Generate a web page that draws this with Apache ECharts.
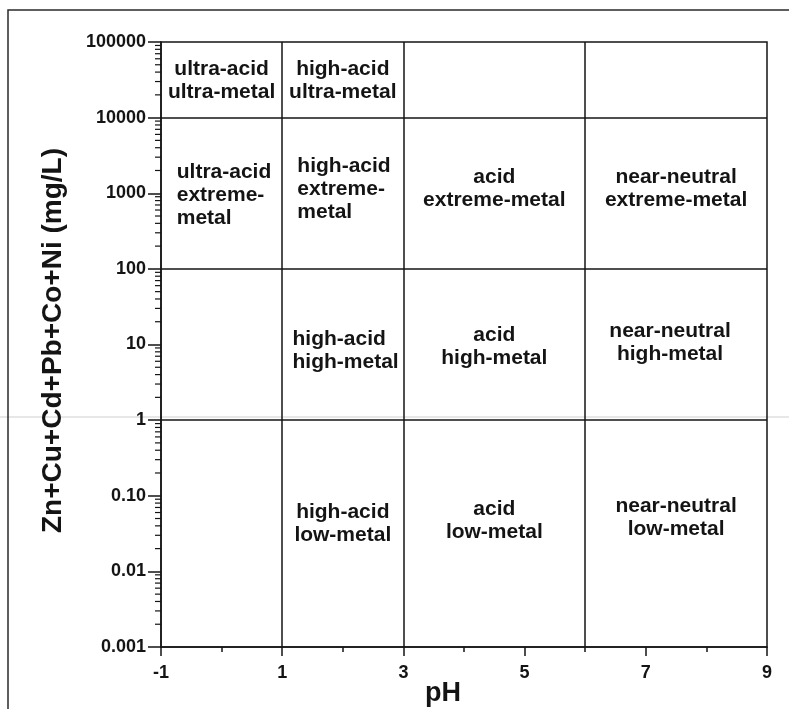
<!DOCTYPE html>
<html><head><meta charset="utf-8">
<script src="https://cdn.jsdelivr.net/npm/echarts@6/dist/echarts.min.js"></script>
<style>html,body{margin:0;padding:0;background:#fff}#c{width:789px;height:709px}</style>
</head><body><div id="c"></div>
<script>
// ---- data ----
const xTickValues = [-1, 1, 3, 5, 7, 9];
const yTickLabels = ['0.001', '0.01', '0.10', '1', '10', '100', '1000', '10000', '100000'];
const phBoundaries = [1, 3, 6];
const concBoundaries = [1, 100, 10000];
const regionNames = [
  'ultra-acid\nultra-metal', 'high-acid\nultra-metal',
  'ultra-acid\nextreme-\nmetal', 'high-acid\nextreme-\nmetal', 'acid\nextreme-metal', 'near-neutral\nextreme-metal',
  'high-acid\nhigh-metal', 'acid\nhigh-metal', 'near-neutral\nhigh-metal',
  'high-acid\nlow-metal', 'acid\nlow-metal', 'near-neutral\nlow-metal'
];
const regionPH = [0, 2, -0.74, 1.25, 4.5, 7.5, 1.17, 4.5, 7.4, 2, 4.5, 7.5];
const regionConc = [31000, 31000, 950, 1120, 1150, 1150, 8.4, 9.4, 10.6, 0.043, 0.047, 0.051];
const regionLeftAligned = [false, false, true, true, false, false, true, false, false, false, false, false];
const minorMultipliers = [2, 3, 4, 5, 6, 7, 8, 9];
const decadeStarts = [0.001, 0.01, 0.1, 1, 10, 100, 1000, 10000];

// ---- build ----
const minorConc = [];
decadeStarts.forEach(d => minorMultipliers.forEach(m => minorConc.push(m * d)));

const INK = '#141414';
const FONT = '"Liberation Sans", Arial, sans-serif';

const chart = echarts.init(document.getElementById('c'), null, {renderer: 'canvas'});
chart.setOption({
  animation: false,
  backgroundColor: '#fff',
  grid: {left: 161, right: 22, top: 42, bottom: 62, show: true, borderColor: INK, borderWidth: 1.5,
    backgroundColor: 'transparent', containLabel: false, outerBoundsMode: 'none'},
  graphic: [
    {type: 'line', z: -10, shape: {x1: 0, y1: 417, x2: 789, y2: 417}, style: {stroke: '#cfcfcf', lineWidth: 1}},
    {type: 'rect', shape: {x: 8, y: 10, width: 840, height: 760}, style: {fill: 'none', stroke: '#2a2a2a', lineWidth: 1.5}}
  ],
  xAxis: {
    type: 'value', min: -1, max: 9, interval: 2,
    axisLine: {show: true, onZero: false, lineStyle: {color: INK, width: 1.5}},
    axisTick: {show: true, inside: false, length: 9, lineStyle: {color: INK, width: 1.5}},
    minorTick: {show: true, splitNumber: 2, length: 5, lineStyle: {color: INK, width: 1.5}},
    splitLine: {show: false},
    axisLabel: {fontFamily: FONT, fontWeight: 'bold', fontSize: 18, color: INK, margin: 17,
      formatter: v => (xTickValues.indexOf(Math.round(v)) >= 0 ? String(Math.round(v)) : '')},
    name: 'pH', nameLocation: 'middle', nameGap: 33, nameMoveOverlap: false,
    nameTextStyle: {fontFamily: FONT, fontWeight: 'bold', fontSize: 27, color: INK, padding: [0, 42, 0, 0]}
  },
  yAxis: {
    type: 'log', logBase: 10, min: 0.001, max: 100000, splitNumber: 8,
    axisLine: {show: true, onZero: false, lineStyle: {color: INK, width: 1.5}},
    axisTick: {show: true, inside: false, length: 13, lineStyle: {color: INK, width: 1.5}},
    splitLine: {show: false},
    axisLabel: {fontFamily: FONT, fontWeight: 'bold', fontSize: 18, color: INK, margin: 15,
      formatter: v => {
        const i = Math.round(Math.log10(v)) + 3;
        return yTickLabels[i] !== undefined ? yTickLabels[i] : '';
      }},
    name: 'Zn+Cu+Cd+Pb+Co+Ni (mg/L)', nameLocation: 'middle', nameGap: 94, nameMoveOverlap: false,
    nameTextStyle: {fontFamily: FONT, fontWeight: 'bold', fontSize: 28, color: INK, padding: [0, 0, 0, 8]}
  },
  series: [
    {
      type: 'line', data: [], silent: true,
      markLine: {
        silent: true, symbol: 'none', animation: false,
        label: {show: false},
        lineStyle: {color: INK, width: 1.5, type: 'solid'},
        data: phBoundaries.map(p => ({xAxis: p})).concat(concBoundaries.map(c => ({yAxis: c})))
      }
    },
    {
      type: 'custom', silent: true, clip: false,
      data: minorConc.map(v => [-1, v]),
      encode: {x: 0, y: 1},
      renderItem: (params, api) => {
        const p = api.coord([api.value(0), api.value(1)]);
        return {type: 'line', shape: {x1: p[0] - 6, y1: p[1], x2: p[0], y2: p[1]},
          style: {stroke: INK, lineWidth: 1.2}};
      }
    },
    {
      type: 'scatter', silent: true, symbolSize: 0,
      itemStyle: {opacity: 1, color: INK},
      data: regionNames.map((n, i) => ({
        name: n, value: [regionPH[i], regionConc[i]],
        label: {align: regionLeftAligned[i] ? 'left' : 'center'}
      })),
      label: {
        show: true, position: 'inside', formatter: p => p.name,
        fontFamily: FONT, fontWeight: 'bold', fontSize: 21, lineHeight: 23, color: INK,
        textBorderWidth: 0
      }
    }
  ]
});
</script>
</body></html>
